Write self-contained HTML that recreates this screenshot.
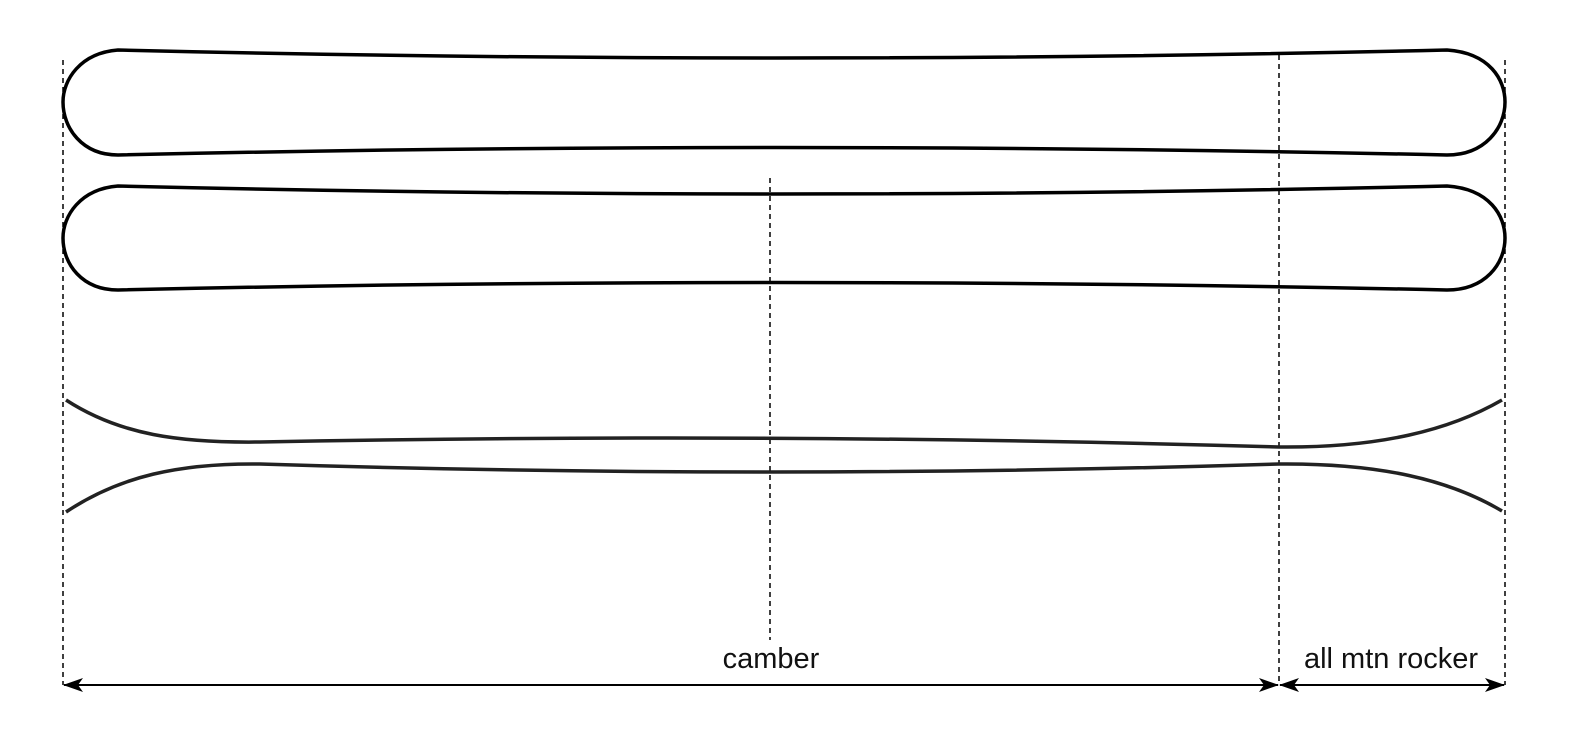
<!DOCTYPE html>
<html><head><meta charset="utf-8"><style>
html,body{margin:0;padding:0;background:#fff;}
svg{display:block;}
text{font-family:"Liberation Sans",sans-serif;font-size:29px;fill:#111;}
</style></head><body>
<svg width="1581" height="749" viewBox="0 0 1581 749" xmlns="http://www.w3.org/2000/svg">
<defs>
<marker id="ah" viewBox="0 0 20 14" refX="19" refY="7" markerWidth="20" markerHeight="14" markerUnits="userSpaceOnUse" orient="auto-start-reverse">
<path d="M0,0 L20,7 L0,14 L5,7 Z" fill="#000"/>
</marker>
</defs>
<g stroke="#000" stroke-width="1.5" stroke-dasharray="5,4" fill="none">
<line x1="63" y1="60" x2="63" y2="685"/>
<line x1="1505" y1="60" x2="1505" y2="685"/>
<line x1="1279" y1="55" x2="1279" y2="685"/>
<line x1="770" y1="178" x2="770" y2="640"/>
</g>
<g stroke="#000" stroke-width="3.5" fill="none" stroke-linejoin="round">
<path d="M118,50 Q770,66 1447,50 C1490,53 1505,80 1505,102 C1505,128 1485,155 1447,155 Q770,140 118,155 C82,155 63,128 63,102 C63,80 80,53 118,50 Z"/>
<path d="M118,186 Q770,202 1447,186 C1490,189 1505,216 1505,238 C1505,264 1485,290 1447,290 Q770,275 118,290 C82,290 63,264 63,238 C63,216 80,189 118,186 Z"/>
</g>
<g stroke="#222" stroke-width="3.5" fill="none">
<path d="M66,400 C120,435 180,443 260,442 Q770,432 1279,447 C1380,448 1450,430 1502,400"/>
<path d="M66,512 C120,476 180,463 260,464 Q770,480 1279,464 C1380,463 1450,480 1502,511"/>
</g>
<g stroke="#000" stroke-width="2">
<line x1="64" y1="685" x2="1278" y2="685" marker-start="url(#ah)" marker-end="url(#ah)"/>
<line x1="1280" y1="685" x2="1504" y2="685" marker-start="url(#ah)" marker-end="url(#ah)"/>
</g>
<text x="771" y="668" text-anchor="middle">camber</text>
<text x="1391" y="668" text-anchor="middle">all mtn rocker</text>
</svg>
</body></html>
